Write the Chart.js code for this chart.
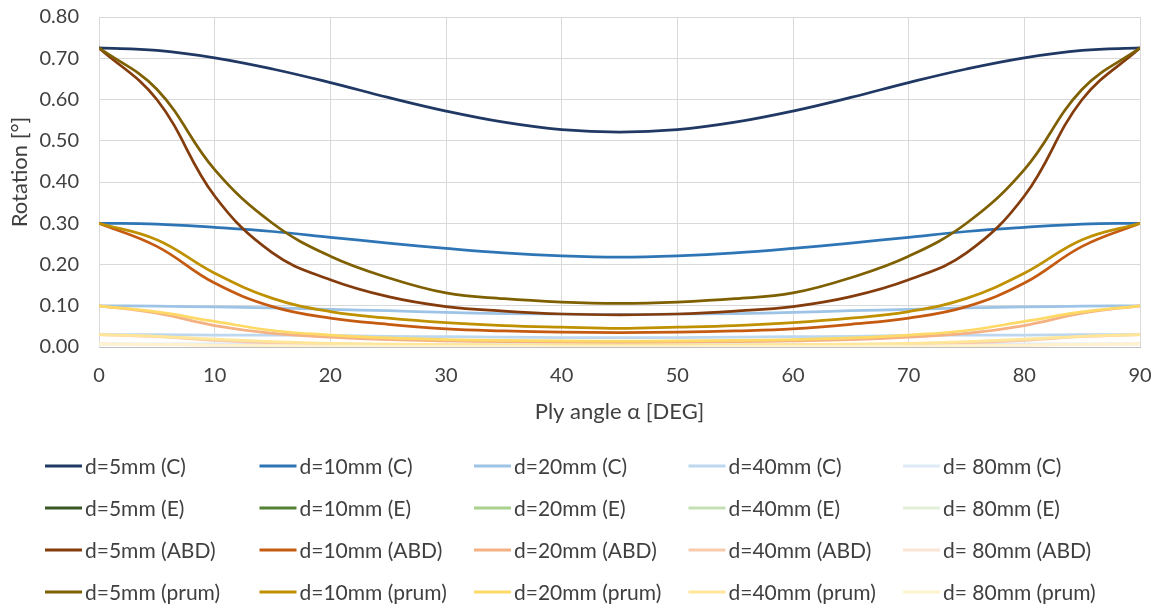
<!DOCTYPE html>
<html>
<head>
<meta charset="utf-8">
<script src="https://cdn.jsdelivr.net/npm/chart.js@4.4.1/dist/chart.umd.min.js"></script>
<style>
body { margin: 0; background: #fff; }
</style>
</head>
<body>
<canvas id="rotChart" width="1159" height="607"></canvas>
<script>
// ply angle [deg]
const angles = [0, 5, 10, 15, 20, 25, 30, 35, 40, 45, 50, 55, 60, 65, 70, 75, 80, 85, 90];

// C
const c5  = [0.725, 0.719, 0.701, 0.674, 0.641, 0.605, 0.572, 0.545, 0.527, 0.521, 0.527, 0.545, 0.572, 0.605, 0.641, 0.674, 0.701, 0.719, 0.725];
const c10 = [0.300, 0.298, 0.290, 0.280, 0.266, 0.252, 0.239, 0.228, 0.221, 0.218, 0.221, 0.228, 0.239, 0.252, 0.266, 0.280, 0.290, 0.298, 0.300];
const c20 = [0.100, 0.099, 0.097, 0.095, 0.091, 0.088, 0.084, 0.081, 0.080, 0.079, 0.080, 0.081, 0.084, 0.088, 0.091, 0.095, 0.097, 0.099, 0.100];
const c40 = [0.030, 0.030, 0.029, 0.029, 0.028, 0.026, 0.025, 0.024, 0.023, 0.023, 0.023, 0.024, 0.025, 0.026, 0.028, 0.029, 0.029, 0.030, 0.030];
const c80 = [0.0075, 0.0075, 0.0073, 0.0071, 0.0069, 0.0066, 0.0063, 0.0061, 0.0059, 0.0058, 0.0059, 0.0061, 0.0063, 0.0066, 0.0069, 0.0071, 0.0073, 0.0075, 0.0075];

// E - nothing visible in the plot
const eNone = [null, null, null, null, null, null, null, null, null, null, null, null, null, null, null, null, null, null, null];

// ABD
const a5  = [0.725, 0.600, 0.366, 0.228, 0.163, 0.122, 0.098, 0.087, 0.080, 0.078, 0.080, 0.087, 0.098, 0.122, 0.163, 0.228, 0.366, 0.600, 0.725];
const a10 = [0.300, 0.244, 0.155, 0.098, 0.070, 0.055, 0.044, 0.039, 0.036, 0.035, 0.036, 0.039, 0.044, 0.055, 0.070, 0.098, 0.155, 0.244, 0.300];
const a20 = [0.100, 0.082, 0.052, 0.033, 0.024, 0.018, 0.015, 0.013, 0.012, 0.011, 0.012, 0.013, 0.015, 0.018, 0.024, 0.033, 0.052, 0.082, 0.100];
const a40 = [0.030, 0.025, 0.016, 0.010, 0.007, 0.0055, 0.0045, 0.004, 0.0037, 0.0035, 0.0037, 0.004, 0.0045, 0.0055, 0.007, 0.010, 0.016, 0.025, 0.030];
const a80 = [0.0075, 0.006, 0.004, 0.0025, 0.0018, 0.0014, 0.0011, 0.001, 0.0009, 0.0009, 0.0009, 0.001, 0.0011, 0.0014, 0.0018, 0.0025, 0.004, 0.006, 0.0075];

// prum
const p5  = [0.725, 0.625, 0.430, 0.300, 0.220, 0.168, 0.131, 0.117, 0.109, 0.106, 0.109, 0.117, 0.131, 0.168, 0.220, 0.300, 0.430, 0.625, 0.725];
const p10 = [0.300, 0.260, 0.179, 0.118, 0.086, 0.070, 0.059, 0.052, 0.048, 0.045, 0.048, 0.052, 0.059, 0.070, 0.086, 0.118, 0.179, 0.260, 0.300];
const p20 = [0.100, 0.085, 0.062, 0.040, 0.029, 0.022, 0.018, 0.016, 0.015, 0.014, 0.015, 0.016, 0.018, 0.022, 0.029, 0.040, 0.062, 0.085, 0.100];
const p40 = [0.030, 0.026, 0.019, 0.013, 0.009, 0.007, 0.006, 0.0053, 0.005, 0.0048, 0.005, 0.0053, 0.006, 0.007, 0.009, 0.013, 0.019, 0.026, 0.030];
const p80 = [0.0075, 0.0065, 0.0048, 0.0033, 0.0023, 0.0018, 0.0015, 0.0013, 0.0012, 0.0012, 0.0012, 0.0013, 0.0015, 0.0018, 0.0023, 0.0033, 0.0048, 0.0065, 0.0075];

const yTicks = [0, 0.1, 0.2, 0.3, 0.4, 0.5, 0.6, 0.7, 0.8];

const seriesNames = [
    'd=5mm (C)', 'd=10mm (C)', 'd=20mm (C)', 'd=40mm (C)', 'd= 80mm (C)',
    'd=5mm (E)', 'd=10mm (E)', 'd=20mm (E)', 'd=40mm (E)', 'd= 80mm (E)',
    'd=5mm (ABD)', 'd=10mm (ABD)', 'd=20mm (ABD)', 'd=40mm (ABD)', 'd= 80mm (ABD)',
    'd=5mm (prum)', 'd=10mm (prum)', 'd=20mm (prum)', 'd=40mm (prum)', 'd= 80mm (prum)'
];
const seriesData = [c5, c10, c20, c40, c80, eNone, eNone, eNone, eNone, eNone, a5, a10, a20, a40, a80, p5, p10, p20, p40, p80];
const seriesColors = [
    '#203864', '#2E75B6', '#9DC3E6', '#BDD7EE', '#DEEBF7',
    '#385723', '#548235', '#A9D18E', '#C5E0B4', '#E2F0D9',
    '#843C0C', '#C55A11', '#F4B183', '#F8CBAD', '#FBE5D6',
    '#7F6000', '#BF9000', '#FFD966', '#FFE699', '#FFF2CC'
];

const textColor = '#404040';
const fontStack = 'Lato, "Open Sans", sans-serif';
Chart.defaults.font.family = fontStack;
Chart.defaults.font.size = 20;
Chart.defaults.color = textColor;

// legend as a 5-column grid below the axis, plus the y title
const gridLegend = {
    id: 'gridLegend',
    afterDraw(chart) {
        const ctx = chart.ctx;
        ctx.save();
        ctx.font = '21px ' + fontStack;
        ctx.textBaseline = 'middle';
        ctx.fillStyle = textColor;
        chart.data.datasets.forEach((ds, i) => {
            const x = 45 + (i % 5) * 214.5;
            const y = 466 + Math.floor(i / 5) * 42;
            ctx.strokeStyle = ds.borderColor;
            ctx.lineWidth = 3;
            ctx.beginPath();
            ctx.moveTo(x, y);
            ctx.lineTo(x + 37, y);
            ctx.stroke();
            ctx.fillText(ds.label, x + 40, y + 1);
        });

        ctx.font = '22px ' + fontStack;
        ctx.textAlign = 'center';
        ctx.translate(20, 172);
        ctx.rotate(-Math.PI / 2);
        ctx.fillText('Rotation [°]', 0, 0);
        ctx.restore();
    }
};

const datasets = seriesNames.map((name, i) => ({
    label: name,
    data: angles.map((a, k) => ({ x: a, y: seriesData[i][k] })),
    borderColor: seriesColors[i],
    backgroundColor: seriesColors[i],
    borderWidth: 2.75,
    pointRadius: 0,
    tension: 0.4,
    fill: false,
    order: -i
}));

new Chart(document.getElementById('rotChart'), {
    type: 'line',
    data: { datasets: datasets },
    options: {
        responsive: false,
        animation: false,
        layout: {
            padding: { left: 3, top: 17, right: 19, bottom: 177 }
        },
        plugins: {
            legend: { display: false },
            tooltip: { enabled: false }
        },
        scales: {
            x: {
                type: 'linear',
                min: 0,
                max: 90,
                afterFit: s => {
                    s.height = 83;
                    s.paddingLeft = 0;
                    s.paddingRight = 0;
                },
                ticks: { stepSize: 10, padding: 17 },
                grid: { color: '#d9d9d9', lineWidth: 1, drawTicks: false },
                border: { color: '#bfbfbf', width: 1 },
                title: {
                    display: true,
                    text: 'Ply angle α [DEG]',
                    font: { size: 22 },
                    padding: { top: 4, bottom: 5 }
                }
            },
            y: {
                min: 0,
                max: 0.8,
                afterFit: s => {
                    s.width = 96;
                    s.paddingTop = 0;
                    s.paddingBottom = 0;
                },
                afterBuildTicks: s => { s.ticks = yTicks.map(v => ({ value: v })); },
                ticks: {
                    padding: 20,
                    callback: v => v.toFixed(2)
                },
                grid: { color: '#d9d9d9', lineWidth: 1, drawTicks: false },
                border: { color: '#d9d9d9', width: 1 }
            }
        }
    },
    plugins: [gridLegend]
});
</script>
</body>
</html>
